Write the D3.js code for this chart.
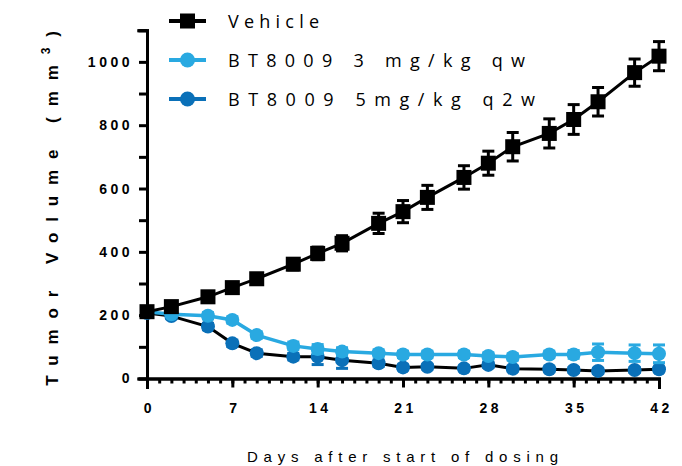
<!DOCTYPE html>
<html>
<head>
<meta charset="utf-8">
<script src="https://cdn.jsdelivr.net/npm/d3@7"></script>
<style>
  html, body { margin: 0; padding: 0; background: #fff; }
  svg { display: block; }
</style>
</head>
<body>
<svg id="chart" width="682" height="466"></svg>
<script>
// Study days on which tumours were measured
const days = [0, 2, 5, 7, 9, 12, 14, 16, 19, 21, 23, 26, 28, 30, 33, 35, 37, 40, 42];

// Mean tumour volume (mm³) and SEM per group
const vehicleMean = [211, 227, 258, 287, 315, 361, 395, 427, 490, 527, 572, 635, 680, 732, 774, 818, 874, 966, 1018];
const vehicleErr  = [10, 10, 12, 14, 15, 18, 20, 24, 32, 35, 38, 37, 38, 45, 46, 47, 45, 43, 46];

const low3Mean = [211, 203, 198, 185, 137, 103, 93, 85, 80, 76, 76, 76, 71, 68, 76, 76, 83, 80, 78];
const low3Err  = [8, 8, 10, 10, 10, 12, 14, 12, 10, 10, 10, 10, 10, 10, 10, 12, 26, 26, 28];

const high5Mean = [207, 197, 164, 111, 80, 69, 69, 58, 48, 35, 37, 32, 43, 31, 29, 27, 24, 27, 29];
const high5Err  = [8, 8, 10, 10, 10, 10, 25, 26, 10, 8, 8, 8, 8, 8, 8, 8, 8, 8, 8];

const seriesNames = ["Vehicle", "BT8009 3 mg/kg qw", "BT8009 5mg/kg q2w"];
const xTickLabels = [0, 7, 14, 21, 28, 35, 42];
const yTickLabels = [0, 200, 400, 600, 800, 1000];

const BLACK = "#000000";
const LIGHT = "#29a9e1";
const DARK = "#0a70b8";

const svg = d3.select("#chart");

const x = d3.scaleLinear().domain([0, 42]).range([147, 659]);
const y = d3.scaleLinear().domain([0, 1100]).range([378.5, 30.2]);

const tickFont = "'Liberation Sans', Arial, sans-serif";

// ----- axes -----
const xMinor = d3.axisBottom(x).tickValues(d3.range(0, 43)).tickSize(5).tickFormat("");
const xMajor = d3.axisBottom(x).tickValues(xTickLabels).tickSize(9).tickPadding(16);

const gxMinor = svg.append("g").attr("transform", `translate(0,${y(0)})`).call(xMinor);
const gx = svg.append("g").attr("transform", `translate(0,${y(0)})`).call(xMajor);

const yMinor = d3.axisLeft(y).tickValues(d3.range(100, 1101, 200)).tickSize(8).tickFormat("");
const yMajor = d3.axisLeft(y).tickValues(yTickLabels).tickSize(8).tickPadding(6).tickFormat(d3.format("d"));

const gyMinor = svg.append("g").attr("transform", `translate(${x(0)},0)`).call(yMinor);
const gy = svg.append("g").attr("transform", `translate(${x(0)},0)`).call(yMajor);

[gxMinor, gx, gyMinor, gy].forEach(g => {
  g.selectAll("path.domain").attr("stroke", BLACK).attr("stroke-width", 3).attr("stroke-linecap", "square");
  g.selectAll(".tick line").attr("stroke", BLACK).attr("stroke-width", 3);
  g.selectAll("text")
    .attr("fill", BLACK)
    .style("font-family", tickFont)
    .style("font-weight", "bold")
    .style("font-size", "14px")
    .style("letter-spacing", "3.5px");
});
gx.selectAll("text").attr("dx", "2px");

// ----- axis titles -----
const yTitle = svg.append("text")
  .attr("transform", `translate(58,203) rotate(-90)`)
  .attr("text-anchor", "middle")
  .style("font-family", tickFont)
  .style("font-weight", "bold")
  .style("font-size", "17px")
  .style("letter-spacing", "10.9px")
  .attr("fill", BLACK);
yTitle.append("tspan").text("Tumor Volume (mm");
yTitle.append("tspan").attr("dy", "-8").style("font-size", "12px").text("3");
yTitle.append("tspan").attr("dy", "8").text(")");

svg.append("text")
  .attr("x", 247)
  .attr("y", 462)
  .attr("textLength", 311)
  .attr("lengthAdjust", "spacing")
  .style("font-family", tickFont)
  .style("font-size", "15px")
  .attr("fill", BLACK)
  .text("Days after start of dosing");

// ----- series -----
function rows(means, errs) {
  return days.map((d, i) => ({ day: d, mean: means[i], err: errs[i] }));
}

const line = d3.line().x(d => x(d.day)).y(d => y(d.mean));

function drawErrors(g, data, color) {
  const eb = g.append("g").attr("stroke", color).attr("stroke-width", 3);
  eb.selectAll("line.v").data(data).join("line")
    .attr("x1", d => x(d.day)).attr("x2", d => x(d.day))
    .attr("y1", d => y(d.mean - d.err)).attr("y2", d => y(d.mean + d.err));
  eb.selectAll("line.cap-hi").data(data).join("line")
    .attr("x1", d => x(d.day) - 6).attr("x2", d => x(d.day) + 6)
    .attr("y1", d => y(d.mean + d.err)).attr("y2", d => y(d.mean + d.err));
  eb.selectAll("line.cap-lo").data(data).join("line")
    .attr("x1", d => x(d.day) - 6).attr("x2", d => x(d.day) + 6)
    .attr("y1", d => y(d.mean - d.err)).attr("y2", d => y(d.mean - d.err));
}

// 5 mg/kg q2w: black connecting line, dark blue circles
const highData = rows(high5Mean, high5Err);
const gHigh = svg.append("g");
drawErrors(gHigh, highData, DARK);
gHigh.append("path").datum(highData).attr("d", line)
  .attr("fill", "none").attr("stroke", BLACK).attr("stroke-width", 3);
gHigh.selectAll("circle").data(highData).join("circle")
  .attr("cx", d => x(d.day)).attr("cy", d => y(d.mean)).attr("r", 7).attr("fill", DARK);

// 3 mg/kg qw: light blue line and circles
const lowData = rows(low3Mean, low3Err);
const gLow = svg.append("g");
drawErrors(gLow, lowData, LIGHT);
gLow.append("path").datum(lowData).attr("d", line)
  .attr("fill", "none").attr("stroke", LIGHT).attr("stroke-width", 3.5);
gLow.selectAll("circle").data(lowData).join("circle")
  .attr("cx", d => x(d.day)).attr("cy", d => y(d.mean)).attr("r", 7).attr("fill", LIGHT);

// Vehicle: black line and squares
const vehData = rows(vehicleMean, vehicleErr);
const gVeh = svg.append("g");
drawErrors(gVeh, vehData, BLACK);
gVeh.append("path").datum(vehData).attr("d", line)
  .attr("fill", "none").attr("stroke", BLACK).attr("stroke-width", 3);
gVeh.selectAll("rect").data(vehData).join("rect")
  .attr("x", d => x(d.day) - 7.5).attr("y", d => y(d.mean) - 7.5)
  .attr("width", 15).attr("height", 15).attr("fill", BLACK);

// ----- legend -----
const legendItems = [
  { name: seriesNames[0], color: BLACK, marker: "square", width: 91 },
  { name: seriesNames[1], color: LIGHT, marker: "circle", width: 297 },
  { name: seriesNames[2], color: DARK, marker: "circle", width: 307 }
];
const legend = svg.append("g");
legendItems.forEach((item, i) => {
  const cy = 21 + i * 39;
  const g = legend.append("g").attr("transform", `translate(0,${cy})`);
  g.append("line").attr("x1", 169).attr("x2", 206).attr("y1", 0).attr("y2", 0)
    .attr("stroke", item.color).attr("stroke-width", 4);
  if (item.marker === "square") {
    g.append("rect").attr("x", 180).attr("y", -7.5).attr("width", 15).attr("height", 15).attr("fill", item.color);
  } else {
    g.append("circle").attr("cx", 187.5).attr("cy", 0).attr("r", 7.5).attr("fill", item.color);
  }
  g.append("text")
    .attr("x", 228).attr("y", 7)
    .attr("textLength", item.width)
    .attr("lengthAdjust", "spacing")
    .style("font-family", "'Open Sans', sans-serif")
    .style("font-size", "18px")
    .attr("fill", BLACK)
    .text(item.name);
});
</script>
</body>
</html>
